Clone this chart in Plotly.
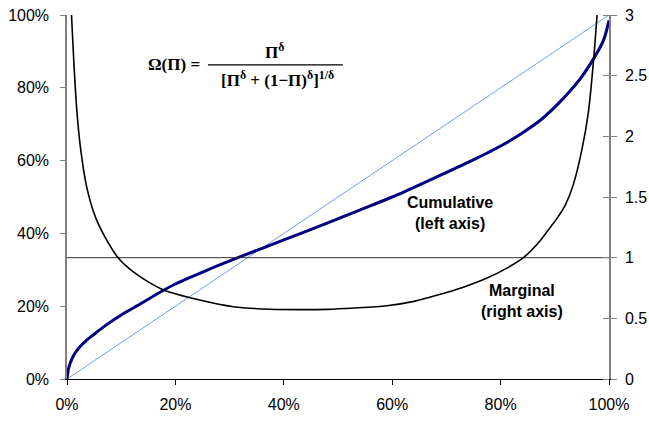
import plotly.graph_objects as go

# Cumulative weighting function (left axis)
cum_p = [0, 0.003, 0.01, 0.02, 0.035, 0.05, 0.07, 0.1, 0.135, 0.17, 0.2, 0.26, 0.32,
         0.4, 0.48, 0.54, 0.6, 0.67, 0.74, 0.8, 0.84, 0.875, 0.91, 0.945, 0.97, 0.99, 1.0]
cum_v = [0, 0.03, 0.058, 0.082, 0.105, 0.123, 0.146, 0.176, 0.206, 0.237, 0.261, 0.300, 0.336,
         0.382, 0.428, 0.464, 0.50, 0.547, 0.595, 0.64, 0.676, 0.713, 0.762, 0.821, 0.876, 0.931, 0.985]

# Diagonal reference line (left axis)
diag_p = [0, 1]
diag_v = [0, 1]

# Marginal weighting (right axis)
mar_p = [0.0083, 0.0125, 0.018, 0.025, 0.036, 0.052, 0.073, 0.095, 0.116, 0.15, 0.178,
         0.245, 0.307, 0.375, 0.43, 0.48, 0.53, 0.59, 0.64, 0.682, 0.73, 0.774, 0.81, 0.842,
         0.873, 0.89, 0.905, 0.92, 0.934, 0.95, 0.962, 0.971, 0.978]
mar_v = [3.0, 2.62, 2.22, 1.90, 1.59, 1.34, 1.146, 0.995, 0.905, 0.80, 0.734,
         0.651, 0.596, 0.575, 0.572, 0.574, 0.585, 0.604, 0.64, 0.69, 0.755, 0.83, 0.91, 1.0,
         1.14, 1.24, 1.33, 1.44, 1.60, 1.89, 2.20, 2.60, 3.0]

# Unit marginal line (right axis)
unit_p = [0, 1]
unit_v = [1, 1]

x_ticks = [0, 0.2, 0.4, 0.6, 0.8, 1.0]
left_ticks = [0, 0.2, 0.4, 0.6, 0.8, 1.0]
right_ticks = [0, 0.5, 1, 1.5, 2, 2.5, 3]
right_labels = ["0", "0.5", "1", "1.5", "2", "2.5", "3"]

fig = go.Figure()
fig.add_trace(go.Scatter(x=diag_p, y=diag_v, mode="lines",
                         line=dict(color="#6f9bff", width=1), yaxis="y", showlegend=False))
fig.add_trace(go.Scatter(x=cum_p, y=cum_v, mode="lines",
                         line=dict(color="#000080", width=3, shape="spline", smoothing=0.8),
                         yaxis="y", showlegend=False))
fig.add_trace(go.Scatter(x=unit_p, y=unit_v, mode="lines",
                         line=dict(color="#333333", width=1), yaxis="y2", showlegend=False))
fig.add_trace(go.Scatter(x=mar_p, y=mar_v, mode="lines",
                         line=dict(color="#000000", width=1.6, shape="spline", smoothing=0.8),
                         yaxis="y2", showlegend=False))

serif = "Liberation Serif, Times New Roman, serif"
annots = [
    dict(x=0.198, y=0.863, yanchor="middle", text="<b>Ω(Π) =</b>", font=dict(family=serif, size=17)),
    dict(x=0.382, y=0.866, yanchor="bottom", text="<b>Π<sup>δ</sup></b>", font=dict(family=serif, size=17)),
    dict(x=0.388, y=0.859, yanchor="top", text="<b>[Π<sup>δ</sup> + (1−Π)<sup>δ</sup>]<sup>1/δ</sup></b>",
         font=dict(family=serif, size=17)),
    dict(x=0.7066, y=0.456, yanchor="middle", text="<b>Cumulative<br>(left axis)</b>", align="center",
         font=dict(size=16)),
    dict(x=0.8395, y=0.213, yanchor="middle", text="<b>Marginal<br>(right axis)</b>", align="center",
         font=dict(size=16)),
]
for a in annots:
    a.update(xref="paper", yref="paper", xanchor="center", showarrow=False)

fig.update_layout(
    template="none",
    width=649, height=422,
    margin=dict(l=67, r=40, t=15, b=43, autoexpand=False),
    paper_bgcolor="white", plot_bgcolor="white",
    font=dict(family="Liberation Sans, Arial, sans-serif", size=16, color="black"),
    annotations=annots,
    shapes=[dict(type="line", xref="paper", yref="paper", x0=0.260, x1=0.509, y0=0.863, y1=0.863,
                 line=dict(color="black", width=1.2))],
    xaxis=dict(range=[0, 1], tickvals=x_ticks, tickformat=".0%", showgrid=False, zeroline=False,
               showline=True, linecolor="black", linewidth=1, ticks="outside", ticklen=5,
               tickcolor="black", ticklabelstandoff=6, automargin=False, ticklabeloverflow="allow"),
    yaxis=dict(range=[0, 1], tickvals=left_ticks, tickformat=".0%", showgrid=False, zeroline=False,
               showline=True, linecolor="#808080", linewidth=1.5, ticks="outside", ticklen=5,
               tickcolor="#808080", ticklabelstandoff=8, automargin=False, ticklabeloverflow="allow"),
    yaxis2=dict(range=[0, 3], tickvals=right_ticks, ticktext=right_labels, overlaying="y", side="right",
                showgrid=False, zeroline=False, showline=True, linecolor="#808080", linewidth=1.5,
                ticks="outside", ticklen=6, tickcolor="#808080", ticklabelstandoff=5, automargin=False,
                ticklabeloverflow="allow",
                minor=dict(tickvals=right_ticks, ticks="inside", ticklen=6, tickcolor="#808080",
                           showgrid=False)),
)

# remove the default page margin so the figure fills the window exactly
fig.write_html("out.html", config={"displayModeBar": False},
               post_script="document.body.style.margin='0';document.body.style.overflow='hidden';")
